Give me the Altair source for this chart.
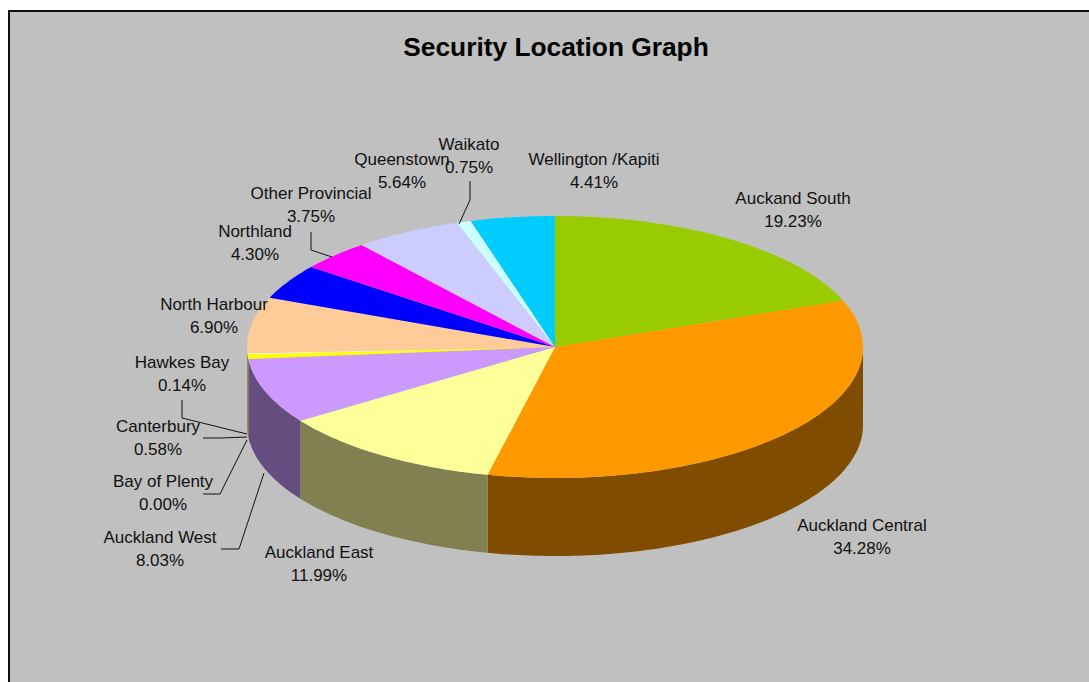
import math
import altair as alt
import pandas as pd

# Pie contents, clockwise from twelve o'clock
regions = ["Auckand South", "Auckland Central", "Auckland East", "Auckland West",
           "Bay of Plenty", "Canterbury", "Hawkes Bay", "North Harbour", "Northland",
           "Other Provincial", "Queenstown", "Waikato", "Wellington /Kapiti"]
shares = [19.23, 34.28, 11.99, 8.03, 0.00, 0.58, 0.14, 6.90, 4.30, 3.75, 5.64, 0.75, 4.41]
top_colors = ["#99cc00", "#ff9900", "#ffff99", "#cc99ff", "#9999ff", "#ffff00", "#ffffcc",
              "#ffcc99", "#0000ff", "#ff00ff", "#ccccff", "#ccffff", "#00ccff"]
side_colors = ["#4d6600", "#804d00", "#808050", "#664d80", "#4d4d80", "#808000", "#808066",
               "#806650", "#000080", "#800080", "#666680", "#668080", "#006680"]

# Label placement: centre x and centre y of each label's first line
label_x = [793, 862, 319, 160, 163, 158, 182, 214, 255, 311, 402, 469, 594]
label_y = [199, 526, 553, 538, 482, 427, 363, 305, 232, 194, 160, 145, 160]

# Elbow leader lines for the labels sitting away from their slices
leaders = {
    "Hawkes Bay": [(182, 400), (182, 418), (247, 434)],
    "Canterbury": [(203, 438), (220, 438), (247, 437)],
    "Bay of Plenty": [(203, 494), (220, 494), (247, 440)],
    "Auckland West": [(221, 549), (239, 549), (264, 473)],
    "Other Provincial": [(311, 232), (311, 250), (332, 257)],
    "Waikato": [(470, 181), (470, 200), (459, 224)],
}

W, H = 1089, 682
CX, CY, RX, RY, DEPTH = 555, 347, 308, 131, 78

x_scale = alt.Scale(domain=[0, W], nice=False, zero=False)
y_scale = alt.Scale(domain=[H, 0], nice=False, zero=False)


def rim(theta, drop=0):
    rad = math.radians(theta)
    return CX + RX * math.sin(rad), CY - RY * math.cos(rad) + drop


def sweep(a, b):
    n = max(2, int(abs(b - a)) + 2)
    return [a + (b - a) * i / (n - 1) for i in range(n)]


top_rows, side_rows = [], []
start = 0.0
for name, share, top, side in zip(regions, shares, top_colors, side_colors):
    end = start + share * 3.6
    if share > 0:
        outline = [(CX, CY)] + [rim(t) for t in sweep(start, end)]
        for i, (px, py) in enumerate(outline):
            top_rows.append(dict(name=name, seq=i, px=px, py=py, color=top))
        # Only the front half of the rim shows a wall
        a, b = max(start, 90), min(end, 270)
        if a < b:
            outline = [rim(t) for t in sweep(a, b)] + [rim(t, DEPTH) for t in sweep(b, a)]
            for i, (px, py) in enumerate(outline):
                side_rows.append(dict(name=name, seq=i, px=px, py=py, color=side))
    start = end


def polygons(rows):
    return alt.Chart(pd.DataFrame(rows)).mark_line(filled=True, strokeWidth=0, interpolate="linear").encode(
        x=alt.X("px:Q", scale=x_scale, axis=None),
        y=alt.Y("py:Q", scale=y_scale, axis=None),
        detail="name:N",
        order="seq:Q",
        color=alt.Color("color:N", scale=None, legend=None),
    )


panel = alt.Chart(pd.DataFrame({"k": [0]})).mark_rect(
    fill="#c0c0c0", stroke="#111111", strokeWidth=2
).encode(x=alt.value(9), x2=alt.value(W + 10), y=alt.value(11), y2=alt.value(H + 10))

leader_rows = [dict(name=k, seq=i, px=p[0], py=p[1])
               for k, pts in leaders.items() for i, p in enumerate(pts)]
leader_lines = alt.Chart(pd.DataFrame(leader_rows)).mark_line(color="#111111", strokeWidth=1).encode(
    x=alt.X("px:Q", scale=x_scale, axis=None),
    y=alt.Y("py:Q", scale=y_scale, axis=None),
    detail="name:N",
    order="seq:Q",
)

label_table = pd.DataFrame({
    "text": [f"{r}\n{s:.2f}%" for r, s in zip(regions, shares)],
    "px": label_x,
    "py": label_y,
})
labels = alt.Chart(label_table).mark_text(
    font="Liberation Sans", fontSize=17, lineBreak="\n", lineHeight=23,
    align="center", baseline="middle", color="#111111",
).encode(
    x=alt.X("px:Q", scale=x_scale, axis=None),
    y=alt.Y("py:Q", scale=y_scale, axis=None),
    text="text:N",
)

title = alt.Chart(pd.DataFrame({"t": ["Security Location Graph"], "px": [556], "py": [48]})).mark_text(
    font="Liberation Sans", fontSize=26.3, fontWeight="bold", align="center", baseline="middle", color="#000000",
).encode(
    x=alt.X("px:Q", scale=x_scale, axis=None),
    y=alt.Y("py:Q", scale=y_scale, axis=None),
    text="t:N",
)

chart = alt.layer(panel, polygons(side_rows), polygons(top_rows), leader_lines, labels, title).properties(
    width=W, height=H, padding=0, autosize=alt.AutoSizeParams(type="none"), background="#ffffff",
).configure_view(stroke=None)

chart.save("out.html", embed_options={"renderer": "svg", "actions": False})
